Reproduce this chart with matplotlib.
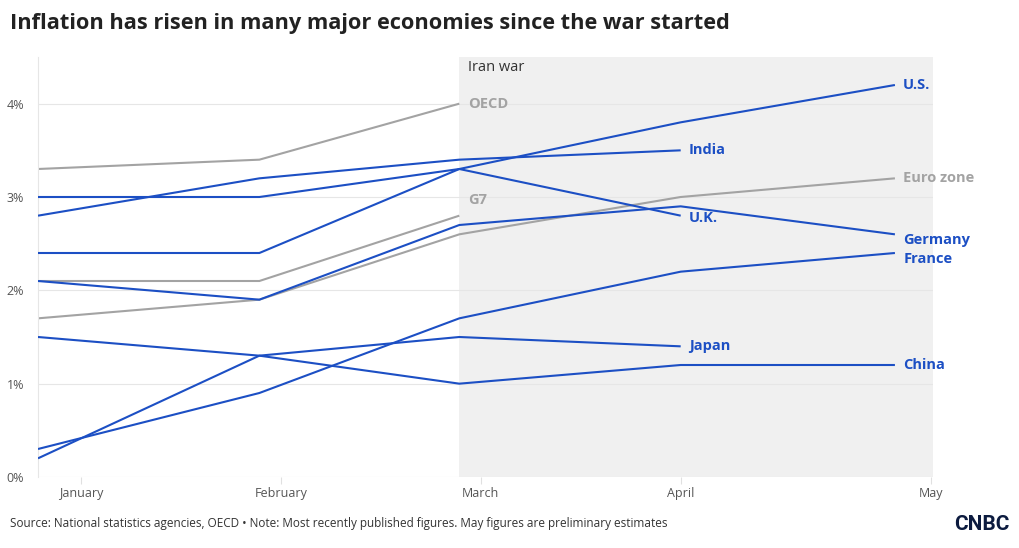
import pandas as pd
import matplotlib
matplotlib.use("Agg")
import matplotlib.pyplot as plt
import matplotlib.dates as mdates

plt.rcParams['font.family'] = ['Open Sans', 'DejaVu Sans']

# 数据
dates = pd.to_datetime(["2026-01-01", "2026-02-01", "2026-03-01", "2026-04-01", "2026-05-01"])
tick_dates = pd.to_datetime(["2026-01-07", "2026-02-04", "2026-03-04", "2026-04-01", "2026-05-06"])
tick_labels = ["January", "February", "March", "April", "May"]
war_start = pd.Timestamp("2026-03-01")
x_end = pd.Timestamp("2026-05-06 08:00")

oecd = [3.3, 3.4, 4.0]
g7 = [2.1, 2.1, 2.8]
euro_zone = [1.7, 1.9, 2.6, 3.0, 3.2]
us = [2.4, 2.4, 3.3, 3.8, 4.2]
india = [2.8, 3.2, 3.4, 3.5]
uk = [3.0, 3.0, 3.3, 2.8]
germany = [2.1, 1.9, 2.7, 2.9, 2.6]
france = [0.3, 0.9, 1.7, 2.2, 2.4]
japan = [0.2, 1.3, 1.5, 1.4]
china = [1.5, 1.3, 1.0, 1.2, 1.2]

BLUE = "#1c4fc4"
GRAY = "#a3a3a3"

# (名称, 数据, 颜色, 标签纵向偏移 pt)
series = [
    ("OECD", oecd, GRAY, 0),
    ("G7", g7, GRAY, 11.5),
    ("Euro zone", euro_zone, GRAY, 0),
    ("U.S.", us, BLUE, 0),
    ("India", india, BLUE, 0),
    ("U.K.", uk, BLUE, -2),
    ("Germany", germany, BLUE, -4.3),
    ("France", france, BLUE, -4.3),
    ("Japan", japan, BLUE, 0),
    ("China", china, BLUE, 0),
]

fig = plt.figure(figsize=(10.2, 5.48), dpi=100)
ax = fig.add_axes([38 / 1020, 71 / 548, 895 / 1020, 420 / 548])

ax.axvspan(war_start, x_end, color="#f0f0f0", zorder=0, lw=0)
ax.annotate("Iran war", (war_start, 4.39), xytext=(6, 0), textcoords="offset points",
            fontsize=10.5, color="#333333", va="center", ha="left")

for name, vals, color, dy in series:
    xs = dates[:len(vals)]
    ax.plot(xs, vals, color=color, lw=1.5, zorder=3 if color == BLUE else 2,
            solid_capstyle="butt")
    ax.annotate(name, (xs[-1], vals[-1]), xytext=(6, dy), textcoords="offset points",
                fontsize=10.5, fontweight="bold", color=color, va="center", ha="left")

ax.set_xlim(dates[0], x_end)
ax.set_ylim(0, 4.5)
ax.set_yticks([0, 1, 2, 3, 4])
ax.set_yticklabels(["0%", "1%", "2%", "3%", "4%"])
ax.set_xticks(tick_dates)
ax.set_xticklabels(tick_labels)
ax.grid(axis="y", color="#e6e6e6", lw=0.8)
ax.set_axisbelow(True)
for s in ["top", "right", "bottom"]:
    ax.spines[s].set_visible(False)
ax.spines["left"].set_color("#e6e6e6")
ax.tick_params(axis="y", length=0, pad=10, labelsize=9, labelcolor="#555555")
ax.tick_params(axis="x", length=5, color="#e0e0e0", pad=2.5, labelsize=9, labelcolor="#555555")

fig.text(10 / 1020, 1 - 24 / 548, "Inflation has risen in many major economies since the war started",
         fontsize=15.7, fontweight="bold", color="#222222", va="center", ha="left")
fig.text(10 / 1020, 1 - 524 / 548,
         "Source: National statistics agencies, OECD \u2022 Note: Most recently published figures. May figures are preliminary estimates",
         fontsize=8.5, color="#333333", va="center", ha="left")
fig.text(1010 / 1020, 1 - 525 / 548, "CNBC", fontsize=15, fontweight="bold",
         color="#0c1b3f", va="center", ha="right", family="Roboto")

plt.savefig("out.png", dpi=100)
